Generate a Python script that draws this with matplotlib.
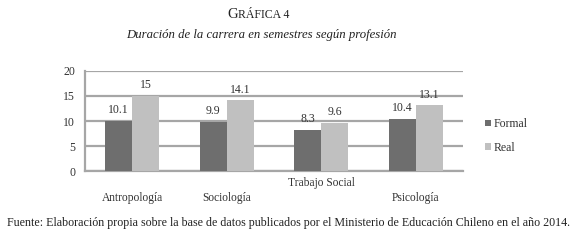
import matplotlib
matplotlib.use('Agg')
import matplotlib.pyplot as plt
import numpy as np

plt.rcParams['font.family'] = ['Liberation Serif', 'DejaVu Serif']

categories = ['Antropología', 'Sociología', 'Trabajo Social', 'Psicología']
formal = [10.1, 9.9, 8.3, 10.4]
real = [15, 14.1, 9.6, 13.1]
yticks = [0, 5, 10, 15, 20]

c_formal = '#6e6e6e'
c_real = '#c0c0c0'
c_grid = '#a6a6a6'

fig = plt.figure(figsize=(5.78, 2.43), dpi=100)
ax = fig.add_axes([0.147, 0.296, 0.654, 0.412])

x = np.arange(len(categories))
w = 0.285
b1 = ax.bar(x - w / 2, formal, w, color=c_formal, label='Formal', zorder=3)
b2 = ax.bar(x + w / 2, real, w, color=c_real, label='Real', zorder=3)

for bars, vals in ((b1, formal), (b2, real)):
    for r, v in zip(bars, vals):
        ax.annotate(f'{v:g}', (r.get_x() + r.get_width() / 2, v),
                    xytext=(0, 3.5), textcoords='offset points',
                    ha='center', va='bottom', fontsize=8.5, color='#333333',
                    zorder=4)

ax.set_xlim(-0.5, len(categories) - 0.5)
ax.set_ylim(0, 20)
ax.set_yticks(yticks)
ax.set_yticklabels([str(t) for t in yticks], fontsize=8.5, color='#333333')
ax.yaxis.grid(True, color=c_grid, linewidth=1.6, zorder=0)
ax.set_axisbelow(True)
ax.tick_params(axis='y', length=0, pad=7)
ax.set_xticks(x)
ax.set_xticklabels([])
ax.tick_params(axis='x', length=0)

# staggered category labels
for i, name in enumerate(categories):
    off = -12 if name == 'Trabajo Social' else -27
    ax.annotate(name, (i, 0), xycoords=('data', 'data'),
                xytext=(0, off), textcoords='offset pixels',
                ha='center', va='center', fontsize=8.3, color='#333333')

for s in ('top', 'right'):
    ax.spines[s].set_visible(False)
for s in ('left', 'bottom'):
    ax.spines[s].set_color(c_grid)
    ax.spines[s].set_linewidth(1.6)

ax.legend(loc='center left', bbox_to_anchor=(1.03, 0.35), frameon=False,
          fontsize=8.5, handlelength=0.5, handleheight=0.5, handletextpad=0.2,
          labelspacing=1.0, labelcolor='#333333')

# title in small caps style
fig.text(0.393, 0.925, 'G', fontsize=10.5, ha='left', va='baseline',
         color='#222222')
fig.text(0.393 + 0.019, 0.925, 'RÁFICA 4', fontsize=8.5, ha='left',
         va='baseline', color='#222222')
fig.text(0.453, 0.845, 'Duración de la carrera en semestres según profesión',
         fontsize=9.2, style='italic', ha='center', va='baseline',
         color='#222222')

fig.text(0.012, 0.07,
         'Fuente: Elaboración propia sobre la base de datos publicados por el '
         'Ministerio de Educación Chileno en el año 2014.',
         fontsize=8.65, ha='left', va='baseline', color='#222222')

fig.savefig('out.png', dpi=100)
